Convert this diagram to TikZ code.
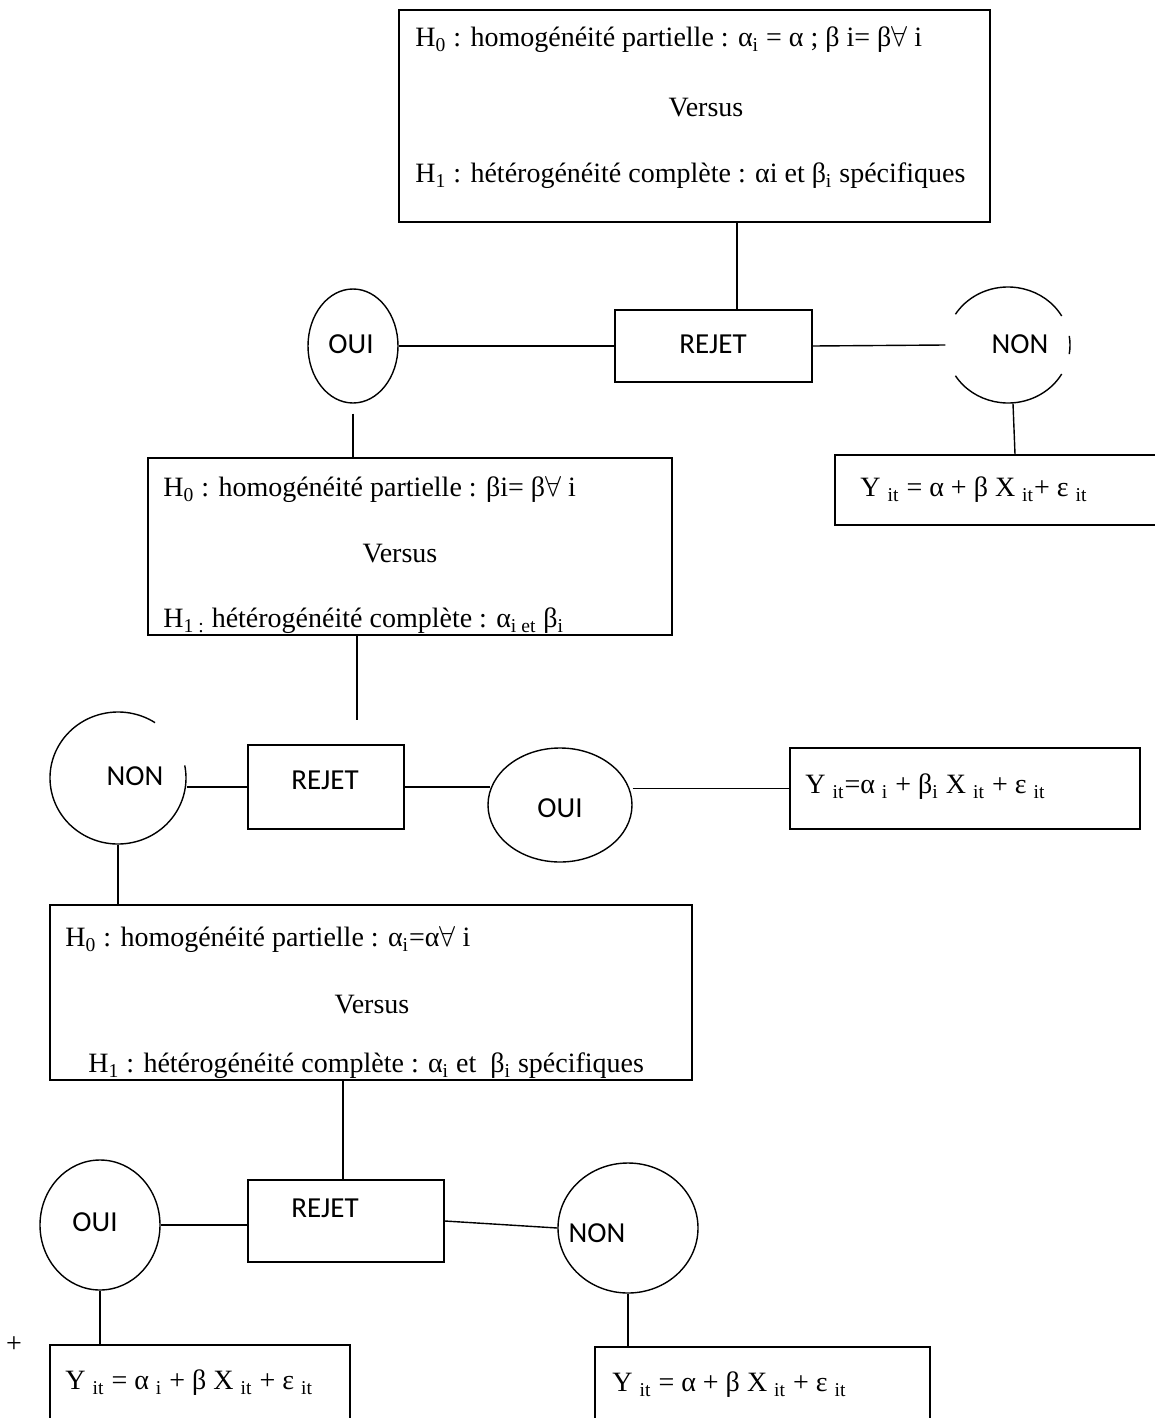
\documentclass[tikz,border=0pt]{standalone}
\usepackage{fontspec}
\setmainfont{Liberation Serif}
\newfontfamily\cali{Carlito}
\usetikzlibrary{shapes.geometric,calc,fit}
\newcommand\fa{\ensuremath{\forall}}
\newcommand\sbs[1]{\textsubscript{#1}}
\begin{document}
\begin{tikzpicture}[x=0.5pt,y=-0.5pt,
  box/.style={draw,line width=0.8pt,inner sep=0pt,rectangle},
  ell/.style={ellipse,inner sep=0pt,line width=0.7pt},
  txt/.style={inner sep=0pt,anchor=west,font=\fontsize{14}{16}\selectfont},
  ctxt/.style={inner sep=0pt,font=\fontsize{14}{16}\selectfont},
  lab/.style={inner sep=0pt,font=\cali\fontsize{14.5}{17}\selectfont},
  conn/.style={line width=0.7pt}]
\useasboundingbox (0,0) rectangle (1155,1418);
\clip (0,0) rectangle (1155,1418);

% ---------- boxes ----------
\node[box,fit={(399,10) (990,222)}] (b1) {};
\node[box,fit={(615,310) (812,382)}] (r1) {};
\node[box,fit={(835,455) (1170,525)}] (y1) {};
\node[box,fit={(148,458) (672,635)}] (b2) {};
\node[box,fit={(248,745) (404,829)}] (r2) {};
\node[box,fit={(790,748) (1140,829)}] (y2) {};
\node[box,fit={(50,905) (692,1080)}] (b3) {};
\node[box,fit={(248,1180) (444,1262)}] (r3) {};
\node[box,fit={(50,1345) (350,1440)}] (y3) {};
\node[box,fit={(595,1347) (930,1440)}] (y4) {};

% ---------- ellipses ----------
\node[ell,draw,minimum width=45pt,minimum height=57pt] (o1) at (353,346) {};
\node[ell,minimum width=62pt,minimum height=58pt] (n1) at (1008,345) {};
\draw[conn] ($(n1.center)+(30:31pt and 29pt)$) arc[start angle=30,end angle=148,x radius=31pt,y radius=29pt];
\draw[conn] ($(n1.center)+(212:31pt and 29pt)$) arc[start angle=212,end angle=330,x radius=31pt,y radius=29pt];
\draw[conn] ($(n1.center)+(-9:31pt and 29pt)$) arc[start angle=-9,end angle=9,x radius=31pt,y radius=29pt];
\node[ell,minimum width=68pt,minimum height=66pt] (n2) at (118,778) {};
\draw[conn] ($(n2.center)+(57:34pt and 33pt)$) arc[start angle=57,end angle=371,x radius=34pt,y radius=33pt];
\node[ell,draw,minimum width=72pt,minimum height=57pt] (o2) at (560,805) {};
\node[ell,draw,minimum width=60pt,minimum height=65pt] (o3) at (100,1225) {};
\node[ell,draw,minimum width=70pt,minimum height=65pt] (n3) at (628,1228) {};

% ---------- labels ----------
\node[lab] (lr1) at (713,344) {REJET};
\node[lab] (lo1) at (351,344) {OUI};
\node[lab] (ln1) at (1020,344) {NON};
\node[lab] (ln2) at (135,776) {NON};
\node[lab] (lr2) at (325,780) {REJET};
\node[lab] (lo2) at (560,808) {OUI};
\node[lab] (lo3) at (95,1222) {OUI};
\node[lab] (lr3) at (325,1208) {REJET};
\node[lab] (ln3) at (597,1233) {NON};

% ---------- texts ----------
\node[txt] (t1a) at (415,40) {H\sbs{0} : homogénéité partielle : α\sbs{i} = α ; β i= β\fa{} i};
\node[ctxt] (t1b) at (706,108) {Versus};
\node[txt] (t1c) at (415,176) {H\sbs{1} : hétérogénéité complète : αi et β\sbs{i} spécifiques};
\node[txt] (t2a) at (163,490) {H\sbs{0} : homogénéité partielle : βi= β\fa{} i};
\node[ctxt] (t2b) at (400,554) {Versus};
\node[txt] (t2c) at (163,621) {H\sbs{1 :} hétérogénéité complète : α\sbs{i et} β\sbs{i}};
\node[txt] (t3a) at (65,940) {H\sbs{0} : homogénéité partielle : α\sbs{i}=α\fa{} i};
\node[ctxt] (t3b) at (372,1005) {Versus};
\node[txt] (t3c) at (88,1066) {H\sbs{1} : hétérogénéité complète : α\sbs{i} et~ β\sbs{i} spécifiques};
\node[txt] (ty1) at (860,490) {Y \sbs{it} = α + β X \sbs{it}+ ε \sbs{it}};
\node[txt] (ty2) at (805,787) {Y \sbs{it}=α \sbs{i} + β\sbs{i} X \sbs{it} + ε \sbs{it}};
\node[txt] (ty3) at (65,1383) {Y \sbs{it} = α \sbs{i} + β X \sbs{it} + ε \sbs{it}};
\node[txt] (ty4) at (612,1385) {Y \sbs{it} = α + β X \sbs{it} + ε \sbs{it}};
\node[ctxt] (plus) at (14,1345) {+};

% ---------- connectors ----------
\coordinate (c1) at (737,0);
\coordinate (c2) at (1015,0);
\coordinate (e2) at (357,720);
\coordinate (c3) at (343,0);
\draw[conn] (c1 |- b1.south) -- (c1 |- r1.north);
\draw[conn] (o1.east) -- (r1.west);
\draw[conn] (r1.east) -- (n1.west);
\draw[conn] ($(n1.south)+(5,0)$) -- (c2 |- y1.north);
\draw[conn] ([yshift=-5pt]o1.south) -- (o1.south |- b2.north);
\draw[conn] (e2 |- b2.south) -- (e2);
\draw[conn] (n2.east |- r2.west) -- (r2.west);
\draw[conn] (r2.east) -- ($(o2.west |- r2.east)+(3,0)$);
\draw[conn] (o2.east |- y2.west) -- (y2.west);
\draw[conn] (n2.south) -- (n2.south |- b3.north);
\draw[conn] (c3 |- b3.south) -- (c3 |- r3.north);
\draw[conn] (o3.east) -- (o3.east -| r3.west);
\draw[conn] (r3.east) -- (n3.west);
\draw[conn] (o3.south) -- (o3.south |- y3.north);
\draw[conn] (n3.south) -- (n3.south |- y4.north);
\end{tikzpicture}
\end{document}
